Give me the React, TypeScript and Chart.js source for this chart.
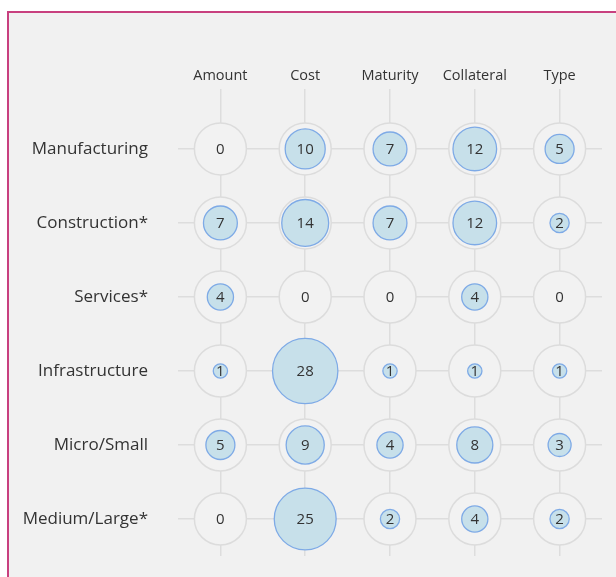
import React, { useEffect, useRef } from "react";
import { Chart, registerables } from "chart.js";

Chart.register(...registerables);

const categories = ["Amount", "Cost", "Maturity", "Collateral", "Type"];
const sectors = [
  "Manufacturing",
  "Construction*",
  "Services*",
  "Infrastructure",
  "Micro/Small",
  "Medium/Large*",
];
const manufacturing = [0, 10, 7, 12, 5];
const construction = [7, 14, 7, 12, 2];
const services = [4, 0, 0, 4, 0];
const infrastructure = [1, 28, 1, 1, 1];
const microSmall = [5, 9, 4, 8, 3];
const mediumLarge = [0, 25, 2, 4, 2];
const rowsValues = [manufacturing, construction, services, infrastructure, microSmall, mediumLarge];

const FONT = "'Open Sans', 'Noto Sans', sans-serif";

export default function App() {
  const ref = useRef<HTMLCanvasElement | null>(null);

  useEffect(() => {
    if (!ref.current) return;
    const ringPoints: any[] = [];
    const bubblePoints: any[] = [];
    rowsValues.forEach((vals, ri) => {
      vals.forEach((v, ci) => {
        ringPoints.push({ x: ci, y: ri, r: 26, v });
        if (v > 0) bubblePoints.push({ x: ci, y: ri, r: 1.2 + 5.95 * Math.sqrt(v), v });
      });
    });

    const labelPlugin = {
      id: "cellLabels",
      afterDatasetsDraw(chart: any) {
        const meta = chart.getDatasetMeta(1);
        const ctx = chart.ctx;
        ctx.save();
        ctx.font = `15px ${FONT}`;
        ctx.fillStyle = "#333333";
        ctx.textAlign = "center";
        ctx.textBaseline = "middle";
        meta.data.forEach((el: any, i: number) => {
          const p = ringPoints[i];
          ctx.fillText(String(p.v), el.x, el.y + 1);
        });
        ctx.restore();
      },
    };

    const chart = new Chart(ref.current, {
      type: "bubble",
      data: {
        datasets: [
          {
            data: bubblePoints,
            backgroundColor: "#c7e0ea",
            borderColor: "#7eaae6",
            borderWidth: 1.3,
            clip: false as any,
          },
          {
            data: ringPoints,
            backgroundColor: "#f2f2f2",
            borderColor: "#dcdcdc",
            borderWidth: 1.5,
            clip: false as any,
          },
        ],
      },
      options: {
        animation: false,
        responsive: false,
        events: [],
        layout: { autoPadding: false, padding: { left: 0, right: 14, top: 0, bottom: 21 } },
        plugins: { legend: { display: false }, tooltip: { enabled: false } },
        scales: {
          x: {
            type: "linear",
            position: "top",
            min: -0.5,
            max: 4.5,
            afterBuildTicks: (s: any) => {
              s.ticks = categories.map((_, i) => ({ value: i }));
            },
            afterFit: (s: any) => {
              s.height = 89;
              s.paddingLeft = 0;
              s.paddingRight = 0;
            },
            ticks: {
              callback: (v: any) => categories[v] ?? "",
              font: { family: FONT, size: 14.5 },
              color: "#333333",
              padding: 4,
              maxRotation: 0,
              autoSkip: false,
            },
            grid: { color: "#dddddd", lineWidth: 1.5, drawTicks: false },
            border: { display: false },
          },
          y: {
            type: "linear",
            reverse: true,
            min: -0.81,
            max: 5.5,
            afterBuildTicks: (s: any) => {
              s.ticks = sectors.map((_, i) => ({ value: i }));
            },
            afterFit: (s: any) => {
              s.width = 178;
              s.paddingTop = 0;
              s.paddingBottom = 0;
            },
            ticks: {
              callback: (v: any) => sectors[v] ?? "",
              font: { family: FONT, size: 17 },
              color: "#333333",
              padding: 30,
              autoSkip: false,
            },
            grid: { color: "#dddddd", lineWidth: 1.5, drawTicks: false },
            border: { display: false },
          },
        },
      },
      plugins: [labelPlugin],
    });
    return () => chart.destroy();
  }, []);

  return (
    <div>
      <div
        style={{
          position: "absolute",
          left: 7,
          top: 11,
          width: 609,
          height: 566,
          borderLeft: "2px solid #c8407f",
          borderTop: "2px solid #c8407f",
          background: "#f1f1f1",
          boxSizing: "border-box",
        }}
      />
      <canvas
        ref={ref}
        width={616}
        height={577}
        style={{ position: "absolute", left: 0, top: 0, width: 616, height: 577 }}
      />
    </div>
  );
}
